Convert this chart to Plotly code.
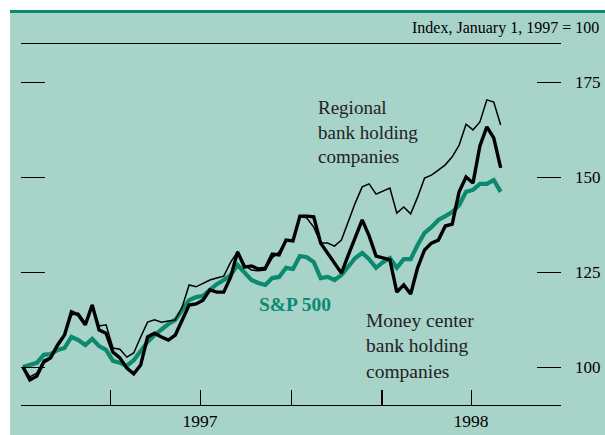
import pandas as pd
import plotly.graph_objects as go

# Weekly observations, index Jan 1, 1997 = 100
dates = pd.date_range("1997-01-03", periods=70, freq="7D")

money_center = [
    100.0, 96.6, 97.6, 101.3, 102.4, 105.8, 108.4, 114.5, 113.7, 111.1,
    116.3, 109.7, 108.9, 103.9, 102.4, 99.7, 98.2, 100.5, 107.9, 108.9,
    107.9, 107.1, 108.4, 112.4, 116.3, 116.6, 117.6, 120.3, 119.7, 119.7,
    123.7, 130.3, 126.3, 126.6, 125.8, 126.0, 129.7, 129.5, 133.4, 133.2,
    139.7, 139.7, 139.5, 132.6, 130.0, 127.4, 124.7, 129.5, 134.2, 138.7,
    134.5, 129.2, 128.7, 128.2, 119.7, 121.6, 119.2, 126.1, 130.8, 132.6,
    133.4, 137.1, 137.6, 146.1, 150.0, 148.4, 158.2, 163.2, 160.3, 152.4,
]

regional = [
    100.0, 97.4, 98.4, 101.8, 102.6, 105.5, 108.2, 113.7, 114.2, 111.6,
    116.3, 110.8, 111.1, 105.0, 104.7, 102.6, 103.7, 107.9, 111.8, 112.4,
    111.8, 112.1, 112.4, 115.8, 121.6, 121.1, 122.1, 122.9, 123.4, 123.9,
    127.6, 130.3, 126.8, 125.5, 125.3, 125.5, 128.7, 130.3, 133.4, 133.2,
    139.7, 139.2, 136.8, 132.6, 132.6, 131.8, 133.4, 138.4, 143.2, 147.4,
    148.2, 145.5, 146.3, 147.1, 140.5, 142.1, 140.3, 144.7, 149.7, 150.5,
    151.8, 153.2, 155.3, 158.4, 163.9, 162.4, 164.5, 170.3, 169.7, 163.7,
]

sp500 = [
    100.0, 100.5, 101.1, 103.2, 103.4, 104.5, 105.0, 107.9, 107.1, 105.8,
    107.4, 105.5, 104.5, 101.6, 101.1, 100.3, 101.8, 104.2, 106.6, 108.4,
    110.0, 111.3, 112.4, 115.0, 117.6, 118.4, 118.7, 120.3, 121.8, 122.9,
    124.2, 126.8, 125.0, 122.9, 122.1, 121.6, 123.4, 123.7, 126.1, 125.8,
    129.2, 128.9, 127.6, 123.4, 123.7, 122.9, 124.2, 126.6, 128.7, 130.0,
    128.4, 126.1, 127.6, 128.7, 126.1, 128.4, 128.4, 132.1, 135.3, 136.8,
    138.7, 139.7, 140.8, 142.6, 146.1, 146.6, 148.2, 148.2, 149.2, 146.1,
]

x_tick_vals = ["1997-01-01", "1997-04-01", "1997-07-01", "1997-10-01",
               "1998-01-01", "1998-04-01", "1998-07-01"]
x_tick_text = ["", "", "1997", "", "", "1998", ""]
y_tick_vals = [100, 125, 150, 175]

BG = "#a8d3c9"
TEAL = "#0b8a70"
SERIF = "Liberation Serif, Times New Roman, serif"

fig = go.Figure()
fig.add_trace(go.Scatter(x=dates, y=sp500, mode="lines",
                         line=dict(color=TEAL, width=4.2), name="S&P 500"))
fig.add_trace(go.Scatter(x=dates, y=regional, mode="lines",
                         line=dict(color="black", width=1.5),
                         name="Regional bank holding companies"))
fig.add_trace(go.Scatter(x=dates, y=money_center, mode="lines",
                         line=dict(color="black", width=3.4),
                         name="Money center bank holding companies"))

W, H = 605, 435
L, R, T, B = 21, 44, 44, 30
pw, ph = W - L - R, H - T - B

def px(xp):
    return (xp - L) / pw

def py(yp):
    return (H - B - yp) / ph

shapes = [
    dict(type="rect", xref="paper", yref="paper", layer="below",
         x0=px(10), x1=px(W + 2), y0=py(H + 2), y1=py(12),
         fillcolor=BG, line=dict(width=0)),
    dict(type="line", xref="paper", yref="paper", layer="below",
         x0=px(10), x1=px(W + 2), y0=py(11.5), y1=py(11.5),
         line=dict(color=TEAL, width=3)),
    # heavier year-boundary tick at Jan 1998
    dict(type="line", xref="x", yref="paper", layer="above",
         x0="1998-01-01", x1="1998-01-01", y0=0, y1=15 / ph,
         line=dict(color="black", width=2)),
]

annotations = [
    dict(text="Index, January 1, 1997 = 100", xref="paper", yref="paper",
         x=px(601), y=py(28), xanchor="right", yanchor="middle",
         showarrow=False, font=dict(family=SERIF, size=16, color="black")),
    dict(text="Regional<br>bank holding<br>companies", xref="paper", yref="paper",
         x=px(316), y=py(95), xanchor="left", yanchor="top", align="left",
         showarrow=False, font=dict(family=SERIF, size=19, color="#222222")),
    dict(text="<b>S&P 500</b>", xref="paper", yref="paper",
         x=px(257), y=py(304), xanchor="left", yanchor="middle",
         showarrow=False, font=dict(family=SERIF, size=19.5, color=TEAL)),
    dict(text="Money center<br>bank holding<br>companies", xref="paper", yref="paper",
         x=px(364), y=py(308), xanchor="left", yanchor="top", align="left",
         showarrow=False, font=dict(family=SERIF, size=19.5, color="#222222")),
]

fig.update_layout(
    width=W, height=H,
    margin=dict(l=L, r=R, t=T, b=B, pad=0),
    paper_bgcolor="white", plot_bgcolor="rgba(0,0,0,0)",
    showlegend=False,
    shapes=shapes, annotations=annotations,
    xaxis=dict(type="date", range=["1997-01-01", "1998-07-01"],
               tickmode="array", tickvals=x_tick_vals, ticktext=x_tick_text,
               ticks="inside", ticklen=15, tickwidth=1, tickcolor="black",
               showline=True, linecolor="black", linewidth=1, mirror=True,
               showgrid=False, zeroline=False, ticklabelstandoff=0,
               automargin=False,
               tickfont=dict(family=SERIF, size=17.5, color="black")),
    yaxis=dict(range=[90, 185], side="right",
               tickmode="array", tickvals=y_tick_vals,
               ticks="inside", ticklen=24, tickwidth=1, tickcolor="black",
               mirror="ticks", showline=False, showgrid=False, zeroline=False,
               ticklabelstandoff=13, automargin=False,
               tickfont=dict(family=SERIF, size=17, color="black")),
)

fig.write_html("out.html",
               config={"displayModeBar": False},
               post_script="document.body.style.margin='0';"
                           "document.body.style.padding='0';")
